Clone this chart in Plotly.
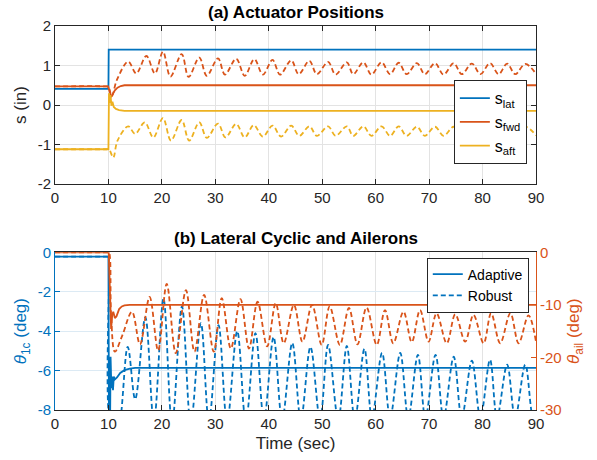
import plotly.graph_objects as go

BLUE = "#0072BD"
ORANGE = "#D95319"
YELLOW = "#EDB120"
AX = "#262626"
GRID = "#E3E3E3"
FONT = "Liberation Sans, Arial, Helvetica, sans-serif"

# ---------------- (a) Actuator positions (in) ----------------
lat_t = [0, 10.0, 10.05, 90]
lat_v = [0.41, 0.41, 1.40, 1.40]

fwd_t = [0, 9.95, 10.2, 10.5, 10.8, 11.2, 11.7, 12.3, 13.0, 14.0, 90]
fwd_v = [0.47, 0.47, 0.35, 0.20, 0.27, 0.37, 0.44, 0.48, 0.50, 0.50, 0.50]

aft_t = [0, 10.0, 10.1, 10.25, 10.4, 10.55, 10.75, 11.0, 11.4, 12.0, 13.0, 90]
aft_v = [-1.12, -1.12, 0.30, 0.05, 0.25, -0.02, 0.08, -0.05, -0.10, -0.13, -0.15, -0.15]

fwd_r_t = [0, 9.5, 10.0, 10.6, 11.6, 13.7, 15.2, 17.1, 18.7, 20.2, 21.6, 23.7, 25.0, 27.0, 28.4,
           30.5, 31.8, 33.9, 35.5, 37.3, 38.9, 40.7, 42.1, 44.2, 45.6, 47.6, 49.0, 51.1, 52.5,
           54.6, 55.8, 57.7, 59.2, 61.1, 62.7, 64.3, 65.8, 67.7, 69.2, 71.1, 72.7, 74.6, 76.1,
           78.0, 79.6, 81.4, 83.0, 84.6, 86.1, 88.0, 90.0]
fwd_r_v = [0.47, 0.47, 0.46, 0.22, 0.64, 1.10, 0.80, 1.24, 0.80, 1.35, 0.72, 1.29, 0.71, 1.20, 0.74,
           1.18, 0.77, 1.17, 0.74, 1.16, 0.77, 1.14, 0.77, 1.13, 0.78, 1.12, 0.78, 1.09, 0.77,
           1.08, 0.78, 1.08, 0.77, 1.08, 0.78, 1.07, 0.78, 1.06, 0.78, 1.06, 0.77, 1.06, 0.78,
           1.05, 0.78, 1.06, 0.78, 1.05, 0.78, 1.04, 0.79]

aft_r_t = [0, 9.5, 10.1, 10.9, 11.7, 13.7, 15.0, 16.8, 18.4, 20.2, 21.7, 23.7, 25.1, 27.0, 28.4,
           30.5, 31.9, 33.9, 35.5, 37.2, 38.9, 40.7, 42.3, 44.2, 45.7, 47.6, 49.0, 51.1, 52.5,
           54.6, 55.8, 57.7, 59.2, 61.1, 62.7, 64.3, 65.8, 67.7, 69.2, 71.1, 72.7, 74.6, 76.1,
           78.0, 79.6, 81.4, 83.0, 84.6, 86.1, 88.0, 90.0]
aft_r_v = [-1.12, -1.12, -1.12, -1.33, -0.90, -0.54, -0.73, -0.44, -0.82, -0.33, -0.90, -0.38, -0.90,
           -0.44, -0.83, -0.47, -0.82, -0.48, -0.82, -0.51, -0.80, -0.52, -0.80, -0.52, -0.78, -0.54,
           -0.78, -0.54, -0.78, -0.54, -0.78, -0.54, -0.78, -0.54, -0.78, -0.54, -0.78, -0.55, -0.78,
           -0.55, -0.78, -0.55, -0.78, -0.55, -0.78, -0.55, -0.78, -0.55, -0.78, -0.55, -0.77]

# ---------------- (b) Lateral cyclic (deg, left) and ailerons (deg, right) ----------------
cyc_t = [0, 10.0, 10.1, 10.3, 10.4, 10.55, 10.7, 10.85, 11.0, 11.2, 11.6, 12.2, 13.0, 14.0, 15.0, 90]
cyc_v = [-0.22, -0.22, -9.0, -9.0, -5.3, -6.9, -6.3, -7.0, -6.3, -6.45, -6.35, -6.12, -5.98, -5.90, -5.86, -5.86]

cyc_r_t = [0, 9.9, 10.0, 10.4, 11.6, 13.6, 15.0, 16.9, 18.5, 20.3, 21.9, 23.75, 25.4, 27.3, 28.8,
           30.6, 32.2, 34.1, 35.7, 37.5, 39.1, 40.9, 42.5, 44.4, 46.0, 47.8, 49.6, 51.1, 53.0,
           54.6, 56.1, 57.9, 59.3, 61.2, 62.7, 64.6, 66.1, 67.9, 69.3, 71.2, 72.7, 74.6, 76.1,
           78.0, 79.6, 81.4, 82.7, 84.6, 86.1, 88.0, 89.5, 90.0]
cyc_r_v = [-0.22, -0.22, -0.22, -8.8, -9.2, -4.8, -7.45, -3.3, -8.6, -2.35, -8.7, -2.75, -8.7, -3.6, -8.6,
           -3.7, -8.6, -4.0, -8.6, -4.1, -8.5, -4.3, -8.5, -4.6, -8.5, -4.8, -8.5, -4.7, -8.5,
           -4.75, -8.5, -4.9, -8.4, -5.1, -8.4, -5.1, -8.4, -5.2, -8.4, -5.2, -8.4, -5.3, -8.4,
           -5.5, -8.4, -5.45, -8.4, -5.7, -8.4, -5.7, -8.4, -8.3]

ail_t = [0, 10.05, 10.3, 10.5, 10.7, 10.9, 11.2, 11.5, 12.0, 12.5, 13.0, 14.0, 90]
ail_v = [0, 0, -8.0, -14.6, -12.0, -11.3, -12.5, -12.2, -10.8, -10.3, -10.1, -10.0, -10.0]

ail_r_t = [0, 9.9, 10.1, 10.5, 11.2, 12.6, 14.4, 15.9, 17.7, 19.3, 20.9, 22.6, 24.5, 26.1, 27.9,
           29.7, 31.2, 32.9, 34.7, 36.3, 37.9, 39.7, 41.3, 42.8, 44.7, 46.3, 48.1, 49.9, 51.4,
           53.3, 55.0, 56.6, 58.3, 60.2, 61.75, 63.3, 65.2, 66.75, 68.3, 69.9, 71.4, 73.3, 74.9,
           76.75, 78.3, 80.2, 81.6, 83.3, 85.2, 86.75, 88.6, 90.0]
ail_r_v = [0, 0, 0, -12.0, -18.9, -15.8, -11.3, -17.5, -8.5, -18.7, -6.0, -19.2, -7.2, -18.9, -8.1,
           -18.9, -8.7, -18.3, -8.9, -18.3, -9.4, -17.9, -9.7, -17.3, -10.0, -17.0, -10.0, -17.6, -10.3,
           -17.6, -10.6, -17.5, -10.5, -17.6, -11.0, -17.3, -11.3, -17.1, -11.0, -17.0, -11.6, -17.3, -11.8,
           -17.0, -11.9, -17.3, -11.6, -17.3, -11.6, -17.3, -12.0, -17.0]

x_ticks = [0, 10, 20, 30, 40, 50, 60, 70, 80, 90]
s_ticks = [-2, -1, 0, 1, 2]
cyc_ticks = [-8, -6, -4, -2, 0]
ail_ticks = [-30, -20, -10, 0]


def labels(vals):
    return [str(v) for v in vals]  # plain hyphen-minus, as in the reference


DASH = "5px,3px"
fig = go.Figure()

# top dashed (robust)
fig.add_trace(go.Scatter(x=fwd_r_t, y=fwd_r_v, mode="lines", line=dict(color=ORANGE, width=1.8, dash=DASH, shape="spline"),
                         showlegend=False, xaxis="x", yaxis="y"))
fig.add_trace(go.Scatter(x=aft_r_t, y=aft_r_v, mode="lines", line=dict(color=YELLOW, width=1.8, dash=DASH, shape="spline"),
                         showlegend=False, xaxis="x", yaxis="y"))
# top solid (adaptive)
fig.add_trace(go.Scatter(x=lat_t, y=lat_v, mode="lines", name="s<sub>lat</sub>", line=dict(color=BLUE, width=1.8),
                         legend="legend", xaxis="x", yaxis="y"))
fig.add_trace(go.Scatter(x=fwd_t, y=fwd_v, mode="lines", name="s<sub>fwd</sub>", line=dict(color=ORANGE, width=1.8),
                         legend="legend", xaxis="x", yaxis="y"))
fig.add_trace(go.Scatter(x=aft_t, y=aft_v, mode="lines", name="s<sub>aft</sub>", line=dict(color=YELLOW, width=1.8),
                         legend="legend", xaxis="x", yaxis="y"))

# bottom: ailerons on right axis
fig.add_trace(go.Scatter(x=ail_r_t, y=ail_r_v, mode="lines", line=dict(color=ORANGE, width=1.8, dash=DASH, shape="spline"),
                         showlegend=False, xaxis="x2", yaxis="y3"))
fig.add_trace(go.Scatter(x=ail_t, y=ail_v, mode="lines", line=dict(color=ORANGE, width=1.8),
                         showlegend=False, xaxis="x2", yaxis="y3"))
# bottom: lateral cyclic on left axis
fig.add_trace(go.Scatter(x=cyc_t, y=cyc_v, mode="lines", name="Adaptive", line=dict(color=BLUE, width=1.8),
                         legend="legend2", xaxis="x2", yaxis="y2"))
fig.add_trace(go.Scatter(x=cyc_r_t, y=cyc_r_v, mode="lines", name="Robust", line=dict(color=BLUE, width=1.8, dash=DASH, shape="spline"),
                         legend="legend2", xaxis="x2", yaxis="y2"))

common = dict(showline=True, linewidth=1, ticks="inside", ticklen=5, tickwidth=1,
              zeroline=False, automargin=False)

fig.update_layout(
    width=597, height=460,
    template="none",
    paper_bgcolor="white", plot_bgcolor="white",
    margin=dict(l=55, r=61, t=26, b=50),
    font=dict(family=FONT, color=AX, size=15),
    xaxis=dict(domain=[0, 1], anchor="y", range=[0, 90], tickvals=x_ticks, ticktext=labels(x_ticks),
               linecolor=AX, tickcolor=AX, mirror="ticks", showgrid=True, gridcolor=GRID,
               tickfont=dict(size=15, family=FONT, color=AX), **common),
    yaxis=dict(domain=[0.5885, 1], anchor="x", range=[-2, 2], tickvals=s_ticks, ticktext=labels(s_ticks),
               linecolor=AX, tickcolor=AX, mirror="ticks", showgrid=True, gridcolor=GRID,
               tickfont=dict(size=15, family=FONT, color=AX),
               title=dict(text="s (in)", font=dict(size=17), standoff=6), **common),
    xaxis2=dict(domain=[0, 1], anchor="y2", range=[0, 90], tickvals=x_ticks, ticktext=labels(x_ticks),
                linecolor=AX, tickcolor=AX, mirror=True, showgrid=True, gridcolor=GRID,
                tickfont=dict(size=15, family=FONT, color=AX),
                title=dict(text="Time (sec)", font=dict(size=17), standoff=6), **common),
    yaxis2=dict(domain=[0, 0.4107], anchor="x2", range=[-8, 0], tickvals=cyc_ticks, ticktext=labels(cyc_ticks),
                linecolor=BLUE, tickcolor=BLUE, showgrid=True, gridcolor="#DCEAF4",
                tickfont=dict(size=15, family=FONT, color=BLUE),
                title=dict(text="<i>θ</i><sub>1c</sub> (deg)", font=dict(size=17, color=BLUE), standoff=6),
                **common),
    yaxis3=dict(domain=[0, 0.4107], anchor="x2", overlaying="y2", side="right", range=[-30, 0],
                tickvals=ail_ticks, ticktext=labels(ail_ticks),
                linecolor=ORANGE, tickcolor=ORANGE, showgrid=False,
                tickfont=dict(size=15, family=FONT, color=ORANGE),
                title=dict(text="<i>θ</i><sub>ail</sub> (deg)", font=dict(size=17, color=ORANGE), standoff=6),
                **common),
    legend=dict(x=0.981, y=0.859, xanchor="right", yanchor="top", bgcolor="white", bordercolor=AX, borderwidth=1,
                font=dict(size=16, family=FONT, color="black"), tracegroupgap=0),
    legend2=dict(x=0.985, y=0.397, xanchor="right", yanchor="top", bgcolor="white", bordercolor=AX, borderwidth=1,
                 font=dict(size=14, family=FONT, color="black")),
    annotations=[
        dict(text="<b>(a) Actuator Positions</b>", x=0.5, y=1.0, xref="paper", yref="paper",
             xanchor="center", yanchor="bottom", showarrow=False, font=dict(size=17, color="black"), yshift=2),
        dict(text="<b>(b) Lateral Cyclic and Ailerons</b>", x=0.5, y=0.4107, xref="paper", yref="paper",
             xanchor="center", yanchor="bottom", showarrow=False, font=dict(size=17, color="black"), yshift=2),
    ],
)

fig.write_html("out.html")
